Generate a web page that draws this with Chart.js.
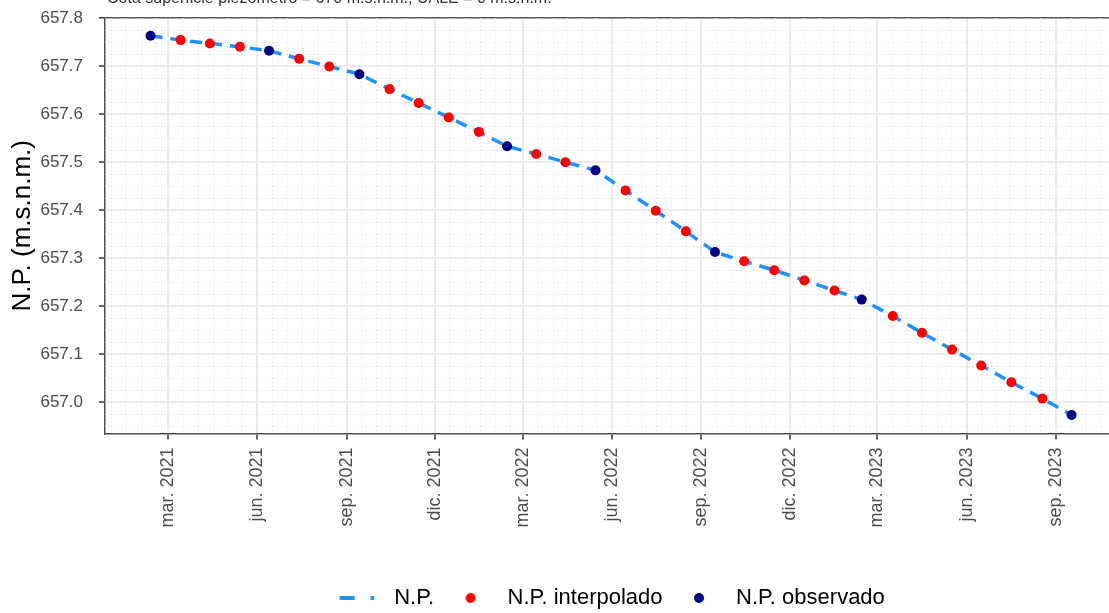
<!DOCTYPE html>
<html><head><meta charset="utf-8">
<script src="https://cdn.jsdelivr.net/npm/chart.js@4/dist/chart.umd.min.js"></script>
<style>
html,body{margin:0;padding:0;background:#fff;overflow:hidden}
#wrap{width:1109px;height:613px;overflow:hidden;position:relative;background:#fff}
#c{position:absolute;left:0;top:-10px}
</style></head><body>
<div id="wrap"><canvas id="c" width="1109" height="629"></canvas></div>
<script>
// ---- data ----
const fechas = ['2021-02-11','2021-03-14','2021-04-13','2021-05-14','2021-06-13','2021-07-14','2021-08-14','2021-09-14',
  '2021-10-15','2021-11-14','2021-12-15','2022-01-15','2022-02-13','2022-03-15','2022-04-14','2022-05-15',
  '2022-06-15','2022-07-16','2022-08-16','2022-09-15','2022-10-15','2022-11-15','2022-12-16','2023-01-16',
  '2023-02-13','2023-03-17','2023-04-16','2023-05-17','2023-06-16','2023-07-17','2023-08-18','2023-09-17'];
const nivel = [657.763,657.754,657.747,657.740,657.732,657.715,657.699,657.683,
  657.652,657.623,657.593,657.563,657.533,657.517,657.500,657.483,
  657.441,657.399,657.356,657.313,657.294,657.275,657.254,657.233,
  657.214,657.180,657.145,657.110,657.077,657.042,657.008,656.974];
const tipo = ['obs','int','int','int','obs','int','int','obs',
  'int','int','int','int','obs','int','int','obs',
  'int','int','int','obs','int','int','int','int',
  'obs','int','int','int','int','int','int','obs'];
const ticksX = ['2021-03-01','2021-06-01','2021-09-01','2021-12-01','2022-03-01','2022-06-01',
  '2022-09-01','2022-12-01','2023-03-01','2023-06-01','2023-09-01'];
const ticksY = [657.0,657.1,657.2,657.3,657.4,657.5,657.6,657.7,657.8];
const meses = ['ene.','feb.','mar.','abr.','may.','jun.','jul.','ago.','sep.','oct.','nov.','dic.'];
const subtitulo = 'Cota superficie piezómetro = 670 m.s.n.m.; UALE = 0 m.s.n.m.';

// ---- helpers ----
const DAY = 86400000;
function toDay(s){const [y,m,d]=s.split('-').map(Number);return Date.UTC(y,m-1,d)/DAY;}
function dayLabel(v){const d=new Date(Math.round(v)*DAY);return meses[d.getUTCMonth()]+' '+d.getUTCFullYear();}
const FONT = "'Liberation Sans', Arial, Helvetica, sans-serif";
const ref = toDay('2021-03-01');
const xMin = ref - 64.85, xMax = ref + 968.55;
const yMin = 656.9354, yMax = 657.8;

const linePts = fechas.map((f,i)=>({x:toDay(f),y:nivel[i]}));
const intPts = linePts.filter((p,i)=>tipo[i]==='int');
const obsPts = linePts.filter((p,i)=>tipo[i]==='obs');

// legend key images
function keyImg(draw){const c=document.createElement('canvas');c.width=46;c.height=14;const g=c.getContext('2d');draw(g);return c;}
const keyLine = keyImg(g=>{g.strokeStyle='#1E90FF';g.lineWidth=4;g.beginPath();g.moveTo(2.5,7);g.lineTo(17.5,7);g.moveTo(33.5,7);g.lineTo(37,7);g.stroke();});
const keyRed = keyImg(g=>{g.fillStyle='#FF0000';g.beginPath();g.arc(20,7,5,0,Math.PI*2);g.fill();});
const keyNavy = keyImg(g=>{g.fillStyle='#000080';g.beginPath();g.arc(20,7,5,0,Math.PI*2);g.fill();});

const minorGrid = {
  id:'minorGrid',
  beforeDatasetsDraw(chart){
    const {ctx, chartArea:a, scales:{x,y}} = chart;
    ctx.save();
    ctx.beginPath();ctx.rect(a.left,a.top,a.right-a.left,a.bottom-a.top);ctx.clip();
    ctx.strokeStyle='#dcdcdc';ctx.lineWidth=1;ctx.setLineDash([1,3]);
    for(let yr=2020;yr<=2023;yr++){for(let m=0;m<12;m++){for(const d of [1,16]){
      const v=Date.UTC(yr,m,d)/DAY; if(v<xMin||v>xMax) continue;
      if(d===1 && m%3===2) continue;
      const px=Math.round(x.getPixelForValue(v))+0.5;
      ctx.beginPath();ctx.moveTo(px,a.top);ctx.lineTo(px,a.bottom);ctx.stroke();
    }}}
    for(let k=0;k<40;k++){const v=656.925+k*0.025; if(v<yMin||v>yMax) continue;
      if(Math.abs(v*10-Math.round(v*10))<1e-6) continue;
      const py=Math.round(y.getPixelForValue(v))+0.5;
      ctx.beginPath();ctx.moveTo(a.left,py);ctx.lineTo(a.right,py);ctx.stroke();}
    ctx.restore();
  }
};
const subtitlePlugin = {
  id:'subtitleTxt',
  afterDraw(chart){const ctx=chart.ctx;ctx.save();ctx.font="16px "+FONT;ctx.fillStyle='#333';ctx.textBaseline='alphabetic';ctx.textAlign='left';ctx.fillText(subtitulo,107,13);ctx.restore();}
};
const legendShift = {
  id:'legendShift',
  afterLayout(chart){const l=chart.legend;if(!l)return;const a=chart.chartArea;const c=(a.left+a.right)/2+4;const d=c-(l.left+l.right)/2;l.left+=d;l.right+=d;}
};

new Chart(document.getElementById('c'),{
  type:'line',
  data:{datasets:[
    {label:'N.P.',data:linePts,borderColor:'#1E90FF',borderWidth:3.5,borderDash:[12,8],pointRadius:0,fill:false,tension:0,order:3},
    {label:'N.P. interpolado',data:intPts,showLine:false,pointRadius:5,pointHoverRadius:5,pointBackgroundColor:'#FF0000',pointBorderWidth:0,borderColor:'#FF0000',order:2},
    {label:'N.P. observado',data:obsPts,showLine:false,pointRadius:5,pointHoverRadius:5,pointBackgroundColor:'#000080',pointBorderWidth:0,borderColor:'#000080',order:1}
  ]},
  options:{
    responsive:false,animation:false,devicePixelRatio:1,
    layout:{autoPadding:false,padding:{top:28,right:0,bottom:0,left:0}},
    plugins:{
      tooltip:{enabled:false},
      title:{display:false},
      legend:{display:true,position:'bottom',
        labels:{usePointStyle:true,pointStyleWidth:46,boxHeight:12,padding:16.5,color:'#000',font:{size:22,family:FONT},
          generateLabels:()=>[
            {text:'N.P.',pointStyle:keyLine,fillStyle:'#1E90FF',strokeStyle:'#1E90FF',lineWidth:0,hidden:false,datasetIndex:0},
            {text:'N.P. interpolado',pointStyle:keyRed,fillStyle:'#FF0000',strokeStyle:'#FF0000',lineWidth:0,hidden:false,datasetIndex:1},
            {text:'N.P. observado',pointStyle:keyNavy,fillStyle:'#000080',strokeStyle:'#000080',lineWidth:0,hidden:false,datasetIndex:2}
          ]}}
    },
    scales:{
      x:{type:'linear',position:'bottom',min:xMin,max:xMax,
        afterBuildTicks:s=>{s.ticks=ticksX.map(t=>({value:toDay(t)}));},
        afterFit:s=>{s.height=137;},
        ticks:{callback:v=>dayLabel(v),maxRotation:90,minRotation:90,autoSkip:false,padding:8,color:'#4d4d4d',font:{size:18,family:FONT}},
        grid:{color:'#ebebeb',lineWidth:2,tickColor:'#333',tickLength:6,tickWidth:1.5},
        border:{display:true,color:'#4d4d4d',width:1.5}
      },
      y:{type:'linear',min:yMin,max:yMax,
        afterBuildTicks:s=>{s.ticks=ticksY.map(v=>({value:v}));},
        afterFit:s=>{s.width=105;},
        ticks:{callback:v=>v.toFixed(1),padding:16,color:'#4d4d4d',font:{size:17,family:FONT}},
        grid:{color:c=>(c.tick&&Math.abs(c.tick.value-657.8)<1e-6)?'#555':'#ebebeb',lineWidth:c=>(c.tick&&Math.abs(c.tick.value-657.8)<1e-6)?1.5:2,tickColor:'#333',tickLength:6,tickWidth:1.5},
        border:{display:true,color:'#4d4d4d',width:1.5},
        title:{display:true,text:'N.P. (m.s.n.m.)',color:'#000',font:{size:26,family:FONT},padding:{top:7,bottom:0}}
      }
    }
  },
  plugins:[minorGrid,subtitlePlugin,legendShift]
});
</script>
</body></html>
